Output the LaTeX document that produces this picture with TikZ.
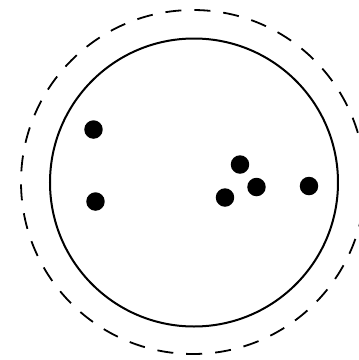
\documentclass[tikz,border=0pt]{standalone}
\begin{document}
\begin{tikzpicture}[x=1pt,y=-1pt,
  rim/.style={line width=2pt},
  outerrim/.style={line width=1.8pt, dash pattern=on 16pt off 13pt},
  dot/.style={circle, fill=black, inner sep=0pt, minimum size=18.5pt}]
\useasboundingbox (0,0) rectangle (359,360);
\clip (0,0) rectangle (359,360);
\coordinate (c) at (194,182.5);
\coordinate (o) at (193,182);
\draw[outerrim] (o) circle[radius=172];
\draw[rim] (c) circle[radius=144];
\node[dot] (d1) at (93.5,129.5) {};
\node[dot] (d2) at (95.5,201.5) {};
\node[dot] (d3) at (240,164.5) {};
\node[dot] (d4) at (256.5,187) {};
\node[dot] (d5) at (225,197.5) {};
\node[dot] (d6) at (309,186) {};
\end{tikzpicture}
\end{document}
